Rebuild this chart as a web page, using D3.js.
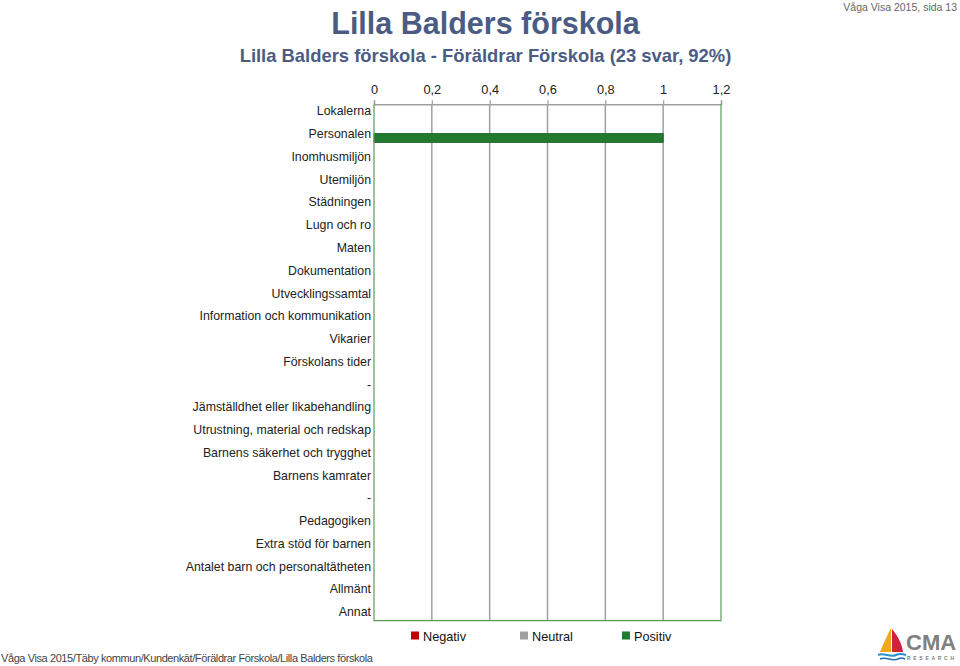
<!DOCTYPE html>
<html><head><meta charset="utf-8">
<script src="https://cdn.jsdelivr.net/npm/d3@7"></script>
<style>
html,body{margin:0;padding:0;background:#fff;}
svg{display:block;font-family:"Liberation Sans",Arial,sans-serif;}
</style>
</head><body>
<svg id="chart" width="960" height="666"></svg>
<script>
const categories = ["Lokalerna","Personalen","Inomhusmiljön","Utemiljön","Städningen","Lugn och ro","Maten","Dokumentation","Utvecklingssamtal","Information och kommunikation","Vikarier","Förskolans tider","-","Jämställdhet eller likabehandling","Utrustning, material och redskap","Barnens säkerhet och trygghet","Barnens kamrater","-","Pedagogiken","Extra stöd för barnen","Antalet barn och personaltätheten","Allmänt","Annat"];
const negativ = [0,0,0,0,0,0,0,0,0,0,0,0,0,0,0,0,0,0,0,0,0,0,0];
const neutral = [0,0,0,0,0,0,0,0,0,0,0,0,0,0,0,0,0,0,0,0,0,0,0];
const positiv = [0,1,0,0,0,0,0,0,0,0,0,0,0,0,0,0,0,0,0,0,0,0,0];
const xTicks = [0,0.2,0.4,0.6,0.8,1,1.2];
const seriesNames = ["Negativ","Neutral","Positiv"];
const seriesColors = ["#c00000","#a0a0a0","#217a2f"];
const titleText = "Lilla Balders förskola";
const subtitleText = "Lilla Balders förskola - Föräldrar Förskola (23 svar, 92%)";
const pageText = "Våga Visa 2015, sida 13";
const footerText = "Våga Visa 2015/Täby kommun/Kundenkät/Föräldrar Förskola/Lilla Balders förskola";

const svg = d3.select("#chart");
const L = 374, R = 721, T = 104.3, B = 620.7;

const rows = categories.map((c,i)=>({key:i, label:c, Negativ:negativ[i], Neutral:neutral[i], Positiv:positiv[i]}));

const x = d3.scaleLinear().domain([0,1.2]).range([L,R]);
const y = d3.scaleBand().domain(rows.map(d=>d.key)).range([T,B]).paddingInner(0);
const yLab = d3.scalePoint().domain(rows.map(d=>d.key)).range([111,611.7]);

// Title
svg.append("text").attr("x",485.5).attr("y",34).attr("text-anchor","middle")
  .attr("font-size",30.5).attr("font-weight","bold").attr("fill","#4b5c84").text(titleText);
svg.append("text").attr("x",485.5).attr("y",62).attr("text-anchor","middle")
  .attr("font-size",18.4).attr("font-weight","bold").attr("fill","#4b5c84").text(subtitleText);
svg.append("text").attr("x",957).attr("y",11).attr("text-anchor","end")
  .attr("font-size",10.5).attr("fill","#666").text(pageText);

// grid lines
svg.append("g").selectAll("line").data(xTicks.slice(1,-1)).join("line")
  .attr("x1",d=>x(d)).attr("x2",d=>x(d)).attr("y1",T).attr("y2",B)
  .attr("stroke","#a0a0a0").attr("stroke-width",1.5);

// top axis
const xAxis = d3.axisTop(x).tickValues(xTicks).tickSize(4).tickPadding(5)
  .tickFormat(d=>d3.format(".1~f")(d).replace(".",","));
const gx = svg.append("g").attr("transform",`translate(0,${T})`).call(xAxis);
gx.select(".domain").attr("stroke","#a0a0a0").attr("stroke-width",1.5);
gx.selectAll(".tick line").attr("stroke","#a0a0a0").attr("stroke-width",1.2);
gx.selectAll(".tick text").attr("font-size",12.8).attr("fill","#222")
  .attr("font-family","Liberation Sans, Arial, sans-serif").attr("dy","-0.1em");

// bars (stacked)
const stack = d3.stack().keys(seriesNames)(rows);
const bh = 9;
svg.append("g").selectAll("g").data(stack).join("g")
  .attr("fill",(d,i)=>seriesColors[i])
  .attr("stroke",(d,i)=>d3.color(seriesColors[i]).darker(0.6))
  .selectAll("rect").data(d=>d.filter(s=>s[1]-s[0]>0)).join("rect")
  .attr("x",d=>x(d[0])).attr("width",d=>x(d[1])-x(d[0]))
  .attr("y",d=>y(d.data.key)+y.bandwidth()/2-bh/2).attr("height",bh)
  .attr("stroke-width",0.8);

// green frame (left, bottom, right)
svg.append("path").attr("d",`M${L},${T}V${B}H${R}V${T}`)
  .attr("fill","none").attr("stroke","#5e9c5e").attr("stroke-width",1.2);

// category labels
const yAxis = d3.axisLeft(yLab).tickSize(0).tickPadding(0).tickFormat(k=>categories[k]);
const gy = svg.append("g").attr("transform",`translate(${L-3},0)`).call(yAxis);
gy.select(".domain").remove();
gy.selectAll(".tick text").attr("font-size",12.35).attr("fill","#222")
  .attr("font-family","Liberation Sans, Arial, sans-serif");

// legend
const legX = [411,520,622];
const lg = svg.append("g").selectAll("g").data(seriesNames).join("g")
  .attr("transform",(d,i)=>`translate(${legX[i]},636)`);
lg.append("rect").attr("x",0).attr("y",-4.5).attr("width",8).attr("height",8)
  .attr("fill",(d,i)=>seriesColors[i]);
lg.append("text").attr("x",12).attr("y",0).attr("dy","0.36em")
  .attr("font-size",12.7).attr("fill","#111").text(d=>d);

// footer
svg.append("text").attr("x",1).attr("y",662).attr("font-size",11).attr("fill","#444")
  .attr("textLength",372).attr("lengthAdjust","spacing").text(footerText);

// logo
const logo = svg.append("g").attr("transform","translate(878,626)");
logo.append("path").attr("d","M13,2 C9,10 5,18 2,26 L13,26 Z").attr("fill","#f2a81d");
logo.append("path").attr("d","M14,3 C20,10 24,18 25,26 L14,26 Z").attr("fill","#d2233c");
logo.append("path").attr("d","M0,29 C6,26 12,32 18,29 C22,27 25,28 28,29").attr("fill","none").attr("stroke","#2a8fd0").attr("stroke-width",2);
logo.append("path").attr("d","M2,33 C8,30 14,36 20,33 C23,31 25,32 27,33").attr("fill","none").attr("stroke","#1f6fb5").attr("stroke-width",1.6);
logo.append("text").attr("x",28).attr("y",24).attr("font-size",22).attr("font-weight","bold")
  .attr("fill","#808080").text("CMA");
logo.append("text").attr("x",29).attr("y",34).attr("font-size",5).attr("font-weight","bold")
  .attr("fill","#808080").attr("textLength",47).text("RESEARCH");
</script>
</body></html>
